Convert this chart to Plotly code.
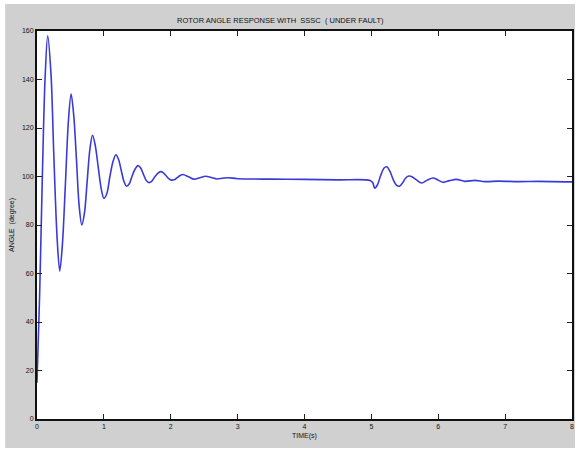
import plotly.graph_objects as go

time_s = [0.0, 0.04, 0.08, 0.12, 0.16, 0.21, 0.25, 0.30, 0.34, 0.38, 0.425, 0.47, 0.51, 0.55, 0.59, 0.63,
          0.67, 0.71, 0.75, 0.79, 0.83, 0.87, 0.915, 0.96, 1.0, 1.045, 1.09, 1.135, 1.18, 1.22, 1.26, 1.30,
          1.34, 1.38, 1.42, 1.465, 1.51, 1.55, 1.59, 1.63, 1.67, 1.715, 1.76, 1.805, 1.85, 1.89, 1.93, 1.97,
          2.01, 2.06, 2.10, 2.14, 2.18, 2.265, 2.35, 2.435, 2.52, 2.605, 2.69, 2.775, 2.86, 3.0, 3.5, 4.0,
          4.5, 4.98, 5.02, 5.05, 5.09, 5.14, 5.19, 5.23, 5.28, 5.33, 5.38, 5.42, 5.47, 5.51, 5.56, 5.6,
          5.675, 5.75, 5.835, 5.92, 5.995, 6.07, 6.17, 6.27, 6.4, 6.55, 6.7, 6.9, 7.2, 7.5, 8.0]
angle_deg = [15, 52, 100, 140, 158, 142, 110, 75, 61, 72, 97, 123, 134, 125, 107, 88,
             80, 85, 98, 111, 117, 113, 104, 95, 91, 93, 100, 106, 109, 107, 102.5, 98,
             96, 97, 100, 103, 104.5, 103.5, 101, 98.5, 97.5, 98, 99.8, 101.3, 102, 101.5, 100.3, 99.1,
             98.5, 98.8, 99.6, 100.4, 100.8, 99.9, 98.9, 99.5, 100.1, 99.6, 99.0, 99.3, 99.5, 99.1, 98.9, 98.8,
             98.6, 98.4, 97.5, 95.2, 96.5, 100.5, 103.5, 104, 102, 98.5, 96.3, 96, 97.5, 99.3, 100.2, 100,
             98.6, 97.3, 98.5, 99.4, 98.6, 97.6, 98.3, 98.8, 98.0, 98.4, 97.9, 98.1, 97.9, 98.0, 97.8]

x_ticks = [0, 1, 2, 3, 4, 5, 6, 7, 8]
y_ticks = [0, 20, 40, 60, 80, 100, 120, 140, 160]

title_text = "ROTOR ANGLE RESPONSE WITH  SSSC  ( UNDER FAULT)"
x_title = "TIME(s)"
y_title = "ANGLE  (degree)"

fig = go.Figure()
fig.add_trace(go.Scatter(x=time_s, y=angle_deg, mode="lines",
                         line=dict(color="#3a3ad8", width=1.6, shape="spline", smoothing=0.9),
                         showlegend=False, hoverinfo="skip"))

L, R, T, B = 37, 5, 31, 36
W, H = 579, 455
pw, ph = W - L - R, H - T - B

# grey figure panel with a thin white outer border
fig.add_shape(type="rect", xref="paper", yref="paper", layer="below",
              x0=(5 - L) / pw, x1=(577 - L) / pw,
              y0=(H - B - 448) / ph, y1=(H - B - 4) / ph,
              fillcolor="#d0d0d0", line=dict(width=0))
# white axes area
fig.add_shape(type="rect", xref="paper", yref="paper", layer="below",
              x0=0, x1=1, y0=0, y1=1, fillcolor="white", line=dict(width=0))

font = dict(family="Liberation Sans, Arial", size=7, color="#111111")

fig.update_layout(
    width=W, height=H,
    margin=dict(l=L, r=R, t=T, b=B),
    paper_bgcolor="white", plot_bgcolor="white",
    font=font,
    title=dict(text=title_text, x=(297 - L) / pw, xanchor="center", y=1 - 20 / H, yanchor="middle",
               font=dict(family="Liberation Sans, Arial", size=7.5, color="#111111")),
    xaxis=dict(range=[0, 8], tickvals=x_ticks, ticktext=[str(v) for v in x_ticks],
               ticks="inside", ticklen=5, tickcolor="#222", tickwidth=1,
               showline=True, linecolor="#111", linewidth=2, mirror="allticks",
               showgrid=False, zeroline=False, tickfont=font,
               title=dict(text=x_title, standoff=4, font=font)),
    yaxis=dict(range=[0, 160], tickvals=y_ticks, ticktext=[str(v) for v in y_ticks],
               ticks="inside", ticklen=5, tickcolor="#222", tickwidth=1,
               showline=True, linecolor="#111", linewidth=2, mirror="allticks",
               showgrid=False, zeroline=False, tickfont=font,
               title=dict(text=y_title, standoff=6, font=font)),
)

fig.write_html("out.html")
